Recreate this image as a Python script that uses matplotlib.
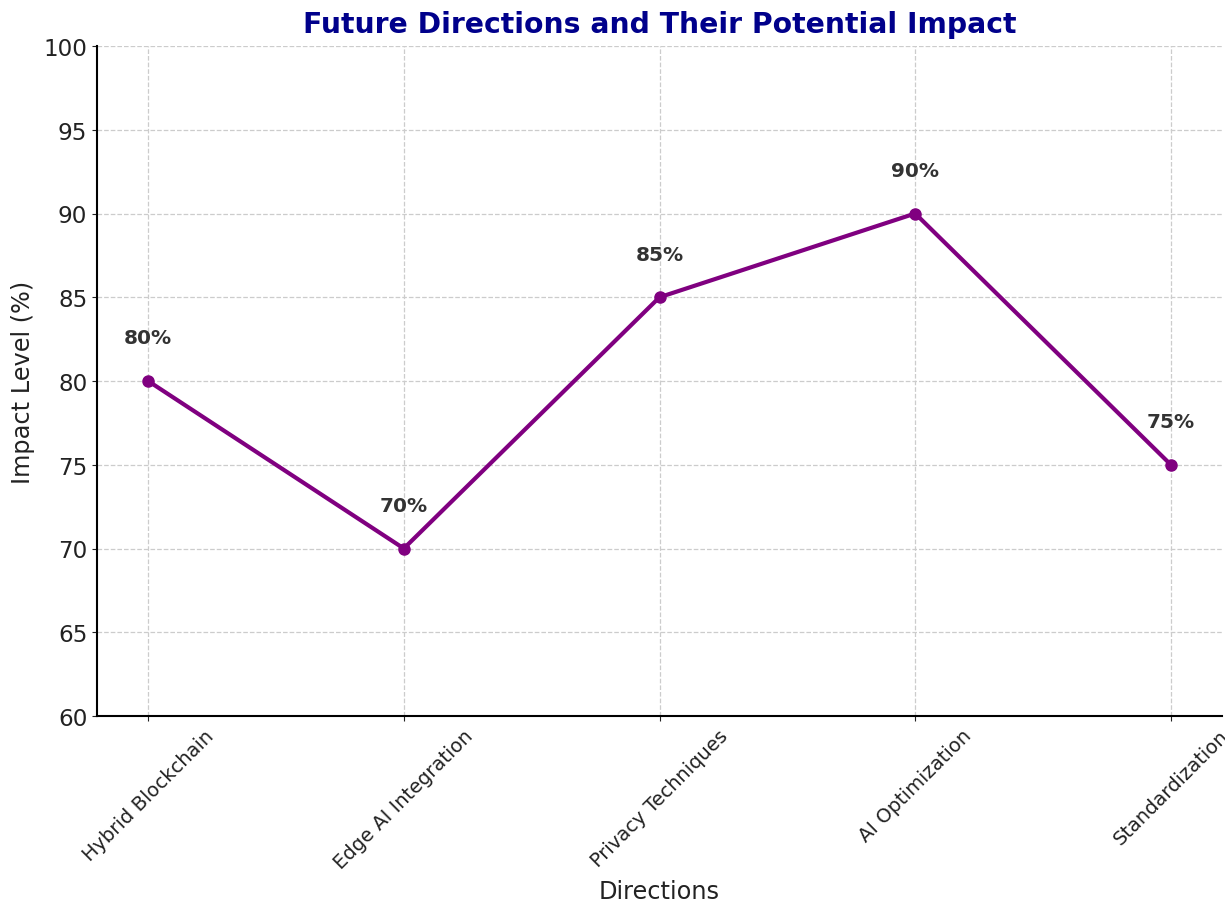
import numpy as np
import matplotlib.pyplot as plt

directions = ['Hybrid Blockchain', 'Edge AI Integration', 'Privacy Techniques',
              'AI Optimization', 'Standardization']
impact = [80, 70, 85, 90, 75]

fig, ax = plt.subplots(figsize=(12.25, 9.04), dpi=100)
fig.subplots_adjust(left=97/1225, right=1222/1225, top=1-47/904, bottom=1-717/904)

ax.plot(directions, impact, marker='o', color='purple', linewidth=3, markersize=8)

for i, v in enumerate(impact):
    ax.text(i, v + 2, f'{v}%', ha='center', va='bottom', fontsize=14.5,
            fontweight='bold', color='#333333')

ax.set_ylim(60, 100)
ax.set_title('Future Directions and Their Potential Impact', fontsize=20.3,
             fontweight='bold', color='darkblue', pad=10)
ax.set_xlabel('Directions', fontsize=17.3, color='#222222', labelpad=5)
ax.set_ylabel('Impact Level (%)', fontsize=17.3, color='#222222', labelpad=6)
ax.tick_params(axis='y', labelsize=16.6, colors='#222222')
ax.tick_params(axis='x', labelsize=14, colors='#222222')
plt.setp(ax.get_xticklabels(), rotation=45, ha='center')
ax.grid(True, linestyle='--', color='#cccccc', linewidth=0.9)
ax.spines['top'].set_visible(False)
ax.spines['right'].set_visible(False)
ax.spines['left'].set_linewidth(1.5)
ax.spines['bottom'].set_linewidth(1.5)

plt.savefig('out.png')
